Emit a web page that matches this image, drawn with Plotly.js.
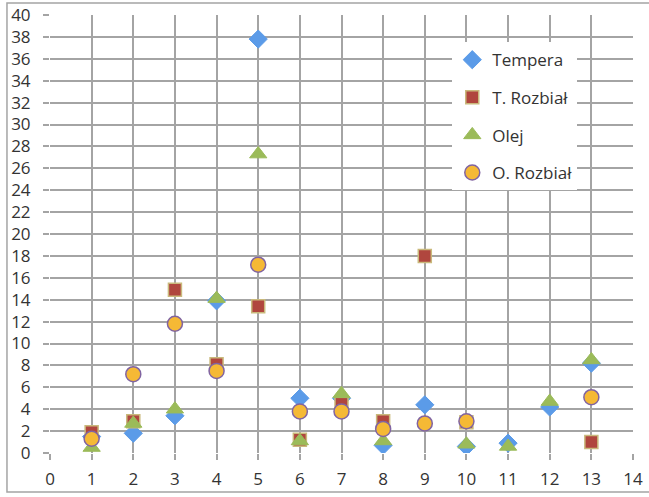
<!DOCTYPE html>
<html>
<head>
<meta charset="utf-8">
<script src="https://cdn.plot.ly/plotly-3.0.1.min.js"></script>
<style>html,body{margin:0;padding:0;background:#fff;}#chart{width:649px;height:497px;}</style>
</head>
<body>
<div id="chart"></div>
<script>
const xValues = [1,2,3,4,5,6,7,8,9,10,11,12,13];
const tempera = [1.5,1.8,3.4,13.9,37.8,5.0,5.0,0.7,4.4,0.6,0.9,4.2,8.2];
const tRozbial = [1.9,2.9,14.9,8.1,13.4,1.2,4.5,2.9,18.0,2.8,null,null,1.0];
const olej = [0.5,2.7,4.0,14.1,27.3,1.1,5.4,1.1,null,0.8,0.6,4.7,8.5];
const oRozbial = [1.3,7.2,11.8,7.5,17.2,3.8,3.8,2.2,2.7,2.9,null,null,5.1];
const seriesNames = ['Tempera','T. Rozbiał','Olej','O. Rozbiał'];

const grid = '#a4a4a4';
const fontFam = '"Open Sans", sans-serif';

const traces = [
  {x:xValues, y:tempera, name:seriesNames[0], mode:'markers', type:'scatter', legendgroup:'a',
   marker:{symbol:'diamond', size:14, color:'#5b9be8', line:{color:'#5b9be8', width:1}}},
  {x:xValues, y:tRozbial, name:seriesNames[1], mode:'markers', type:'scatter', legendgroup:'b',
   marker:{symbol:'square', size:13, color:'#b0463e', line:{color:'#c9b97c', width:1.5}}},
  {x:xValues, y:olej, name:seriesNames[2], mode:'markers', type:'scatter', legendgroup:'c',
   marker:{symbol:'triangle-up', size:15, color:'#9bbb59', line:{color:'#9bbb59', width:1}}},
  {x:xValues, y:oRozbial, name:seriesNames[3], mode:'markers', type:'scatter', legendgroup:'d',
   marker:{symbol:'circle', size:15, color:'#f5b935', line:{color:'#8064a2', width:1.5}}}
];

const layout = {
  width:649, height:497,
  margin:{l:50, r:16, t:15, b:44, pad:0},
  paper_bgcolor:'#fff', plot_bgcolor:'#fff',
  font:{family:fontFam, size:17, color:'#333'},
  showlegend:true,
  legend:{x:0.69, y:0.938, xanchor:'left', yanchor:'top', bgcolor:'#fff', borderwidth:0,
          tracegroupgap:12.5, traceorder:'grouped', entrywidth:100, entrywidthmode:'pixels',
          font:{family:fontFam, size:17, color:'#333'}},
  xaxis:{range:[0,14], dtick:1, tick0:0, showgrid:true, gridcolor:grid, gridwidth:2,
         zeroline:false, showline:false, ticks:'outside', ticklen:6, tickcolor:grid, tickwidth:2,
         ticklabelstandoff:5, tickfont:{family:fontFam, size:17, color:'#333'}},
  yaxis:{range:[0,40], dtick:2, tick0:0, showgrid:true, gridcolor:grid, gridwidth:2,
         zeroline:false, showline:false, ticks:'outside', ticklen:6, tickcolor:grid, tickwidth:2,
         ticklabelstandoff:9, tickfont:{family:fontFam, size:17, color:'#333'}},
  shapes:[
    {type:'rect', xref:'paper', yref:'paper', x0:-0.0738, x1:1.04, y0:-0.089, y1:1.0274,
     line:{color:'#a4a4a4', width:1.5}, fillcolor:'rgba(0,0,0,0)', layer:'below'}
  ]
};

Plotly.newPlot('chart', traces, layout, {displayModeBar:false, staticPlot:true});
</script>
</body>
</html>
